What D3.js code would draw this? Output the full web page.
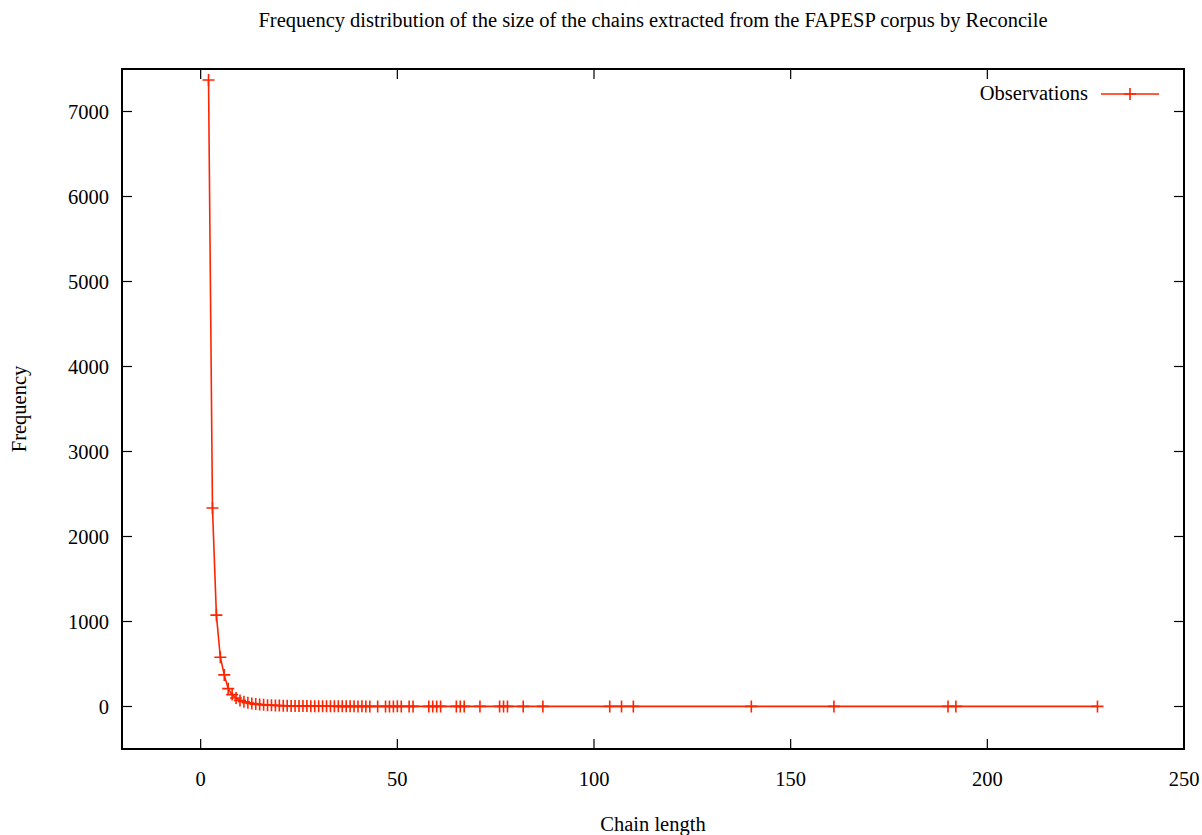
<!DOCTYPE html>
<html>
<head>
<meta charset="utf-8">
<script src="https://cdn.jsdelivr.net/npm/d3@7"></script>
<style>
  body { margin: 0; background: #fff; }
  text { font-family: "Liberation Serif", "DejaVu Serif", serif; fill: #000; }
</style>
</head>
<body>
<div id="chart"></div>
<script>
// chain lengths and how often each occurs
const chainLength = [2, 3, 4, 5, 6, 7, 8, 9, 10, 11, 12, 13, 14, 15, 16, 17, 18, 19, 20,
  21, 22, 23, 24, 25, 26, 27, 28, 29, 30, 31, 32, 33, 34, 35, 36, 37, 38, 39, 40,
  41, 42, 43, 45, 47, 48, 49, 50, 51, 53, 54, 58, 59, 60, 61, 65, 66, 67, 71, 76,
  77, 78, 82, 87, 104, 107, 110, 140, 161, 190, 192, 228]
const frequency = [7370, 2335, 1075, 580, 372, 210, 140, 100, 72, 56, 44, 35, 28, 24, 20, 16, 14, 12, 11,
  9, 8, 7, 7, 6, 5, 5, 4, 4, 4, 3, 3, 3, 3, 2, 2, 2, 2, 2, 1,
  2, 1, 1, 1, 1, 1, 1, 2, 1, 1, 1, 1, 1, 1, 1, 1, 1, 1, 1, 1,
  1, 1, 1, 1, 1, 1, 1, 1, 1, 1, 1, 1]
const xTicks = [0, 50, 100, 150, 200, 250]
const yTicks = [0, 1000, 2000, 3000, 4000, 5000, 6000, 7000]

const data = chainLength.map((d, i) => ({x: d, y: frequency[i]}))

const width = 1202, height = 835
const plotLeft = 122, plotRight = 1184, plotTop = 69, plotBottom = 749
const red = '#ff2400'
const fontSize = '20.5px'

const svg = d3.select('#chart').append('svg')
  .attr('width', width)
  .attr('height', height)

const x = d3.scaleLinear().domain([-20, 250]).range([plotLeft, plotRight])
const y = d3.scaleLinear().domain([-500, 7500]).range([plotBottom, plotTop])

// title
svg.append('text')
  .attr('x', (plotLeft + plotRight) / 2)
  .attr('y', 27)
  .attr('text-anchor', 'middle')
  .attr('font-size', fontSize)
  .text('Frequency distribution of the size of the chains extracted from the FAPESP corpus by Reconcile')

// ticks, gnuplot style: inside, mirrored
const tickLen = 10
const ticks = svg.append('g').attr('stroke', '#000').attr('stroke-width', 1.2)
xTicks.forEach(t => {
  ticks.append('line').attr('x1', x(t)).attr('x2', x(t)).attr('y1', plotBottom).attr('y2', plotBottom - tickLen)
  ticks.append('line').attr('x1', x(t)).attr('x2', x(t)).attr('y1', plotTop).attr('y2', plotTop + tickLen)
})
yTicks.forEach(t => {
  ticks.append('line').attr('x1', plotLeft).attr('x2', plotLeft + tickLen).attr('y1', y(t)).attr('y2', y(t))
  ticks.append('line').attr('x1', plotRight).attr('x2', plotRight - tickLen).attr('y1', y(t)).attr('y2', y(t))
})

svg.append('g').selectAll('text')
  .data(xTicks)
  .join('text')
  .attr('x', d => x(d))
  .attr('y', 786)
  .attr('text-anchor', 'middle')
  .attr('font-size', fontSize)
  .text(d => d)

svg.append('g').selectAll('text')
  .data(yTicks)
  .join('text')
  .attr('x', 109)
  .attr('y', d => y(d))
  .attr('dy', '0.35em')
  .attr('text-anchor', 'end')
  .attr('font-size', fontSize)
  .text(d => d)

// axis labels
svg.append('text')
  .attr('x', (plotLeft + plotRight) / 2)
  .attr('y', 831)
  .attr('text-anchor', 'middle')
  .attr('font-size', fontSize)
  .text('Chain length')

svg.append('text')
  .attr('transform', `translate(26, ${(plotTop + plotBottom) / 2}) rotate(-90)`)
  .attr('text-anchor', 'middle')
  .attr('font-size', fontSize)
  .text('Frequency')

// series
const line = d3.line().x(d => x(d.x)).y(d => y(d.y))
svg.append('path')
  .datum(data)
  .attr('fill', 'none')
  .attr('stroke', red)
  .attr('stroke-width', 1.6)
  .attr('d', line)

const cross = 6
const crossPath = (cx, cy) => `M${cx - cross},${cy}H${cx + cross}M${cx},${cy - cross}V${cy + cross}`
svg.append('g').selectAll('path')
  .data(data)
  .join('path')
  .attr('fill', 'none')
  .attr('stroke', red)
  .attr('stroke-width', 1.6)
  .attr('d', d => crossPath(x(d.x), y(d.y)))

// legend
svg.append('text')
  .attr('x', 1088)
  .attr('y', 93)
  .attr('dy', '0.35em')
  .attr('text-anchor', 'end')
  .attr('font-size', fontSize)
  .text('Observations')
svg.append('line')
  .attr('x1', 1101).attr('x2', 1159).attr('y1', 94).attr('y2', 94)
  .attr('stroke', red).attr('stroke-width', 1.6)
svg.append('path')
  .attr('fill', 'none').attr('stroke', red).attr('stroke-width', 1.6)
  .attr('d', crossPath(1130, 94))

// frame
svg.append('rect')
  .attr('x', plotLeft).attr('y', plotTop)
  .attr('width', plotRight - plotLeft).attr('height', plotBottom - plotTop)
  .attr('fill', 'none')
  .attr('stroke', '#000')
  .attr('stroke-width', 2)
</script>
</body>
</html>
